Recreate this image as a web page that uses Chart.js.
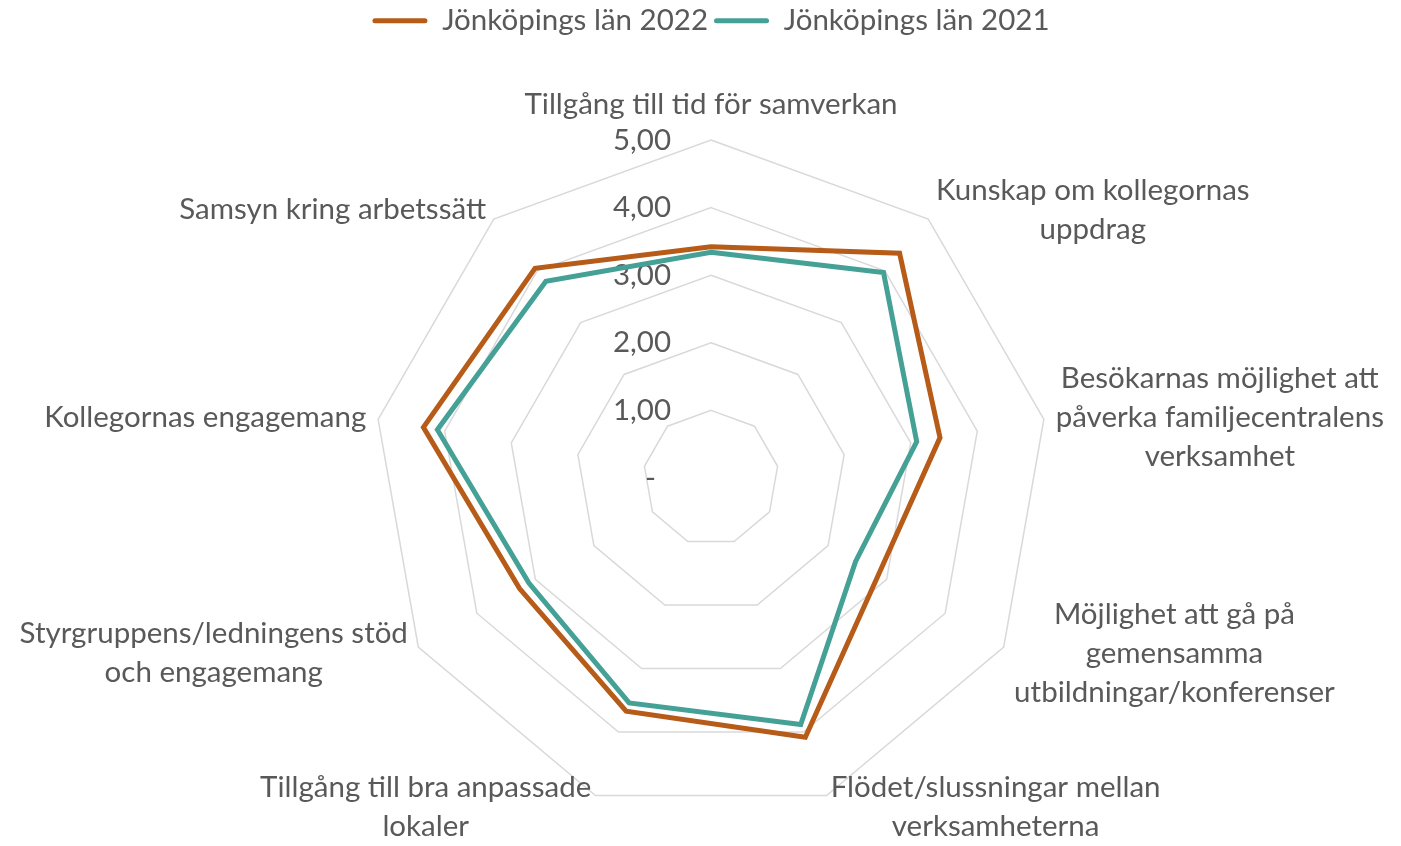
<!DOCTYPE html>
<html lang="sv">
<head>
<meta charset="utf-8">
<title>Jönköpings län 2022 / 2021</title>
<script src="https://cdn.jsdelivr.net/npm/chart.js@4/dist/chart.umd.min.js"></script>
<style>
  html, body { margin: 0; padding: 0; background: #fff; }
  #wrap { width: 1401px; height: 846px; position: relative; }
</style>
</head>
<body>
<div id="wrap"><canvas id="radar-chart"></canvas></div>
<script>
const categories = [
  ['Tillgång till tid för samverkan'],
  ['Kunskap om kollegornas', 'uppdrag'],
  ['Besökarnas möjlighet att', 'påverka familjecentralens', 'verksamhet'],
  ['Möjlighet att gå på', 'gemensamma', 'utbildningar/konferenser'],
  ['Flödet/slussningar mellan', 'verksamheterna'],
  ['Tillgång till bra anpassade', 'lokaler'],
  ['Styrgruppens/ledningens stöd', 'och engagemang'],
  ['Kollegornas engagemang'],
  ['Samsyn kring arbetssätt']
];
const values2022 = [3.42, 4.34, 3.44, 2.86, 4.08, 3.67, 3.27, 4.32, 4.05];
const values2021 = [3.34, 3.97, 3.09, 2.47, 3.88, 3.54, 3.11, 4.11, 3.80];
const tickValues = [0, 1, 2, 3, 4, 5];
const tickLabels = ['-  ', '1,00', '2,00', '3,00', '4,00', '5,00'];

const orange = '#B65B18';
const teal = '#45A096';
const textColor = '#595959';
const fontFamily = 'Lato, "Open Sans", sans-serif';
const fontSize = 29.5;
const lineH = 39;

// legend gets extra height so the radar sits lower, like the excel one
const legendSpacer = {
  id: 'legendSpacer',
  beforeInit(chart) {
    const fit = chart.legend.fit;
    chart.legend.fit = function () {
      fit.bind(chart.legend)();
      this.height += 94.5;
    };
  }
};

// tick labels left of the vertical axis
const tickText = {
  id: 'tickText',
  beforeDatasetsDraw(chart) {
    const scale = chart.scales.r;
    const ctx = chart.ctx;
    ctx.save();
    ctx.font = `${fontSize}px ${fontFamily}`;
    ctx.fillStyle = textColor;
    ctx.textAlign = 'right';
    ctx.textBaseline = 'middle';
    tickValues.forEach((v, i) => {
      const y = scale.yCenter - scale.getDistanceFromCenterForValue(v);
      ctx.fillText(tickLabels[i], scale.xCenter - 40, y);
    });
    ctx.restore();
  }
};

// category labels, multi-line and centered inside their block
const pointText = {
  id: 'pointText',
  afterDraw(chart) {
    const scale = chart.scales.r;
    const ctx = chart.ctx;
    ctx.save();
    ctx.font = `${fontSize}px ${fontFamily}`;
    ctx.fillStyle = textColor;
    ctx.textAlign = 'center';
    ctx.textBaseline = 'middle';
    categories.forEach((lines, i) => {
      const p = scale.getPointPosition(i, scale.drawingArea + 12);
      const w = Math.max(...lines.map(l => ctx.measureText(l).width));
      let cx = p.x;
      if (p.x > scale.xCenter + 4) cx = p.x + w / 2;
      else if (p.x < scale.xCenter - 4) cx = p.x - w / 2;
      const h = lines.length * lineH;
      const top = i === 0 ? p.y - h - 4 : p.y - h / 2;
      lines.forEach((l, j) => ctx.fillText(l, cx, top + lineH * (j + 0.5)));
    });
    ctx.restore();
  }
};

const radarCtx = document.getElementById('radar-chart').getContext('2d');

let radarGraph = new Chart(radarCtx, {
  type: 'radar',
  data: {
    labels: categories,
    datasets: [{
      label: 'Jönköpings län 2022',
      data: values2022,
      borderColor: orange,
      backgroundColor: orange,
      borderWidth: 5,
      fill: false,
      pointRadius: 0,
      pointHoverRadius: 0
    }, {
      label: 'Jönköpings län 2021',
      data: values2021,
      borderColor: teal,
      backgroundColor: teal,
      borderWidth: 5,
      fill: false,
      pointRadius: 0,
      pointHoverRadius: 0
    }]
  },
  options: {
    responsive: true,
    maintainAspectRatio: false,
    animation: false,
    layout: {
      padding: { left: 21, right: 0, top: 0, bottom: 30 }
    },
    elements: {
      line: { tension: 0, borderJoinStyle: 'miter' }
    },
    scales: {
      r: {
        min: 0,
        max: 5,
        ticks: { stepSize: 1, display: false },
        grid: { color: '#D9D9D9', lineWidth: 1.5 },
        angleLines: { display: false },
        pointLabels: { display: false }
      }
    },
    plugins: {
      legend: {
        position: 'top',
        labels: {
          boxWidth: 55,
          boxHeight: 5,
          padding: 6,
          useBorderRadius: true,
          borderRadius: 2.5,
          color: textColor,
          font: { family: fontFamily, size: fontSize },
          generateLabels(chart) {
            return Chart.defaults.plugins.legend.labels.generateLabels(chart)
              .map(item => ({ ...item, lineWidth: 0, fillStyle: item.strokeStyle }));
          }
        }
      },
      tooltip: { enabled: false }
    }
  },
  plugins: [legendSpacer, tickText, pointText]
});
</script>
</body>
</html>
